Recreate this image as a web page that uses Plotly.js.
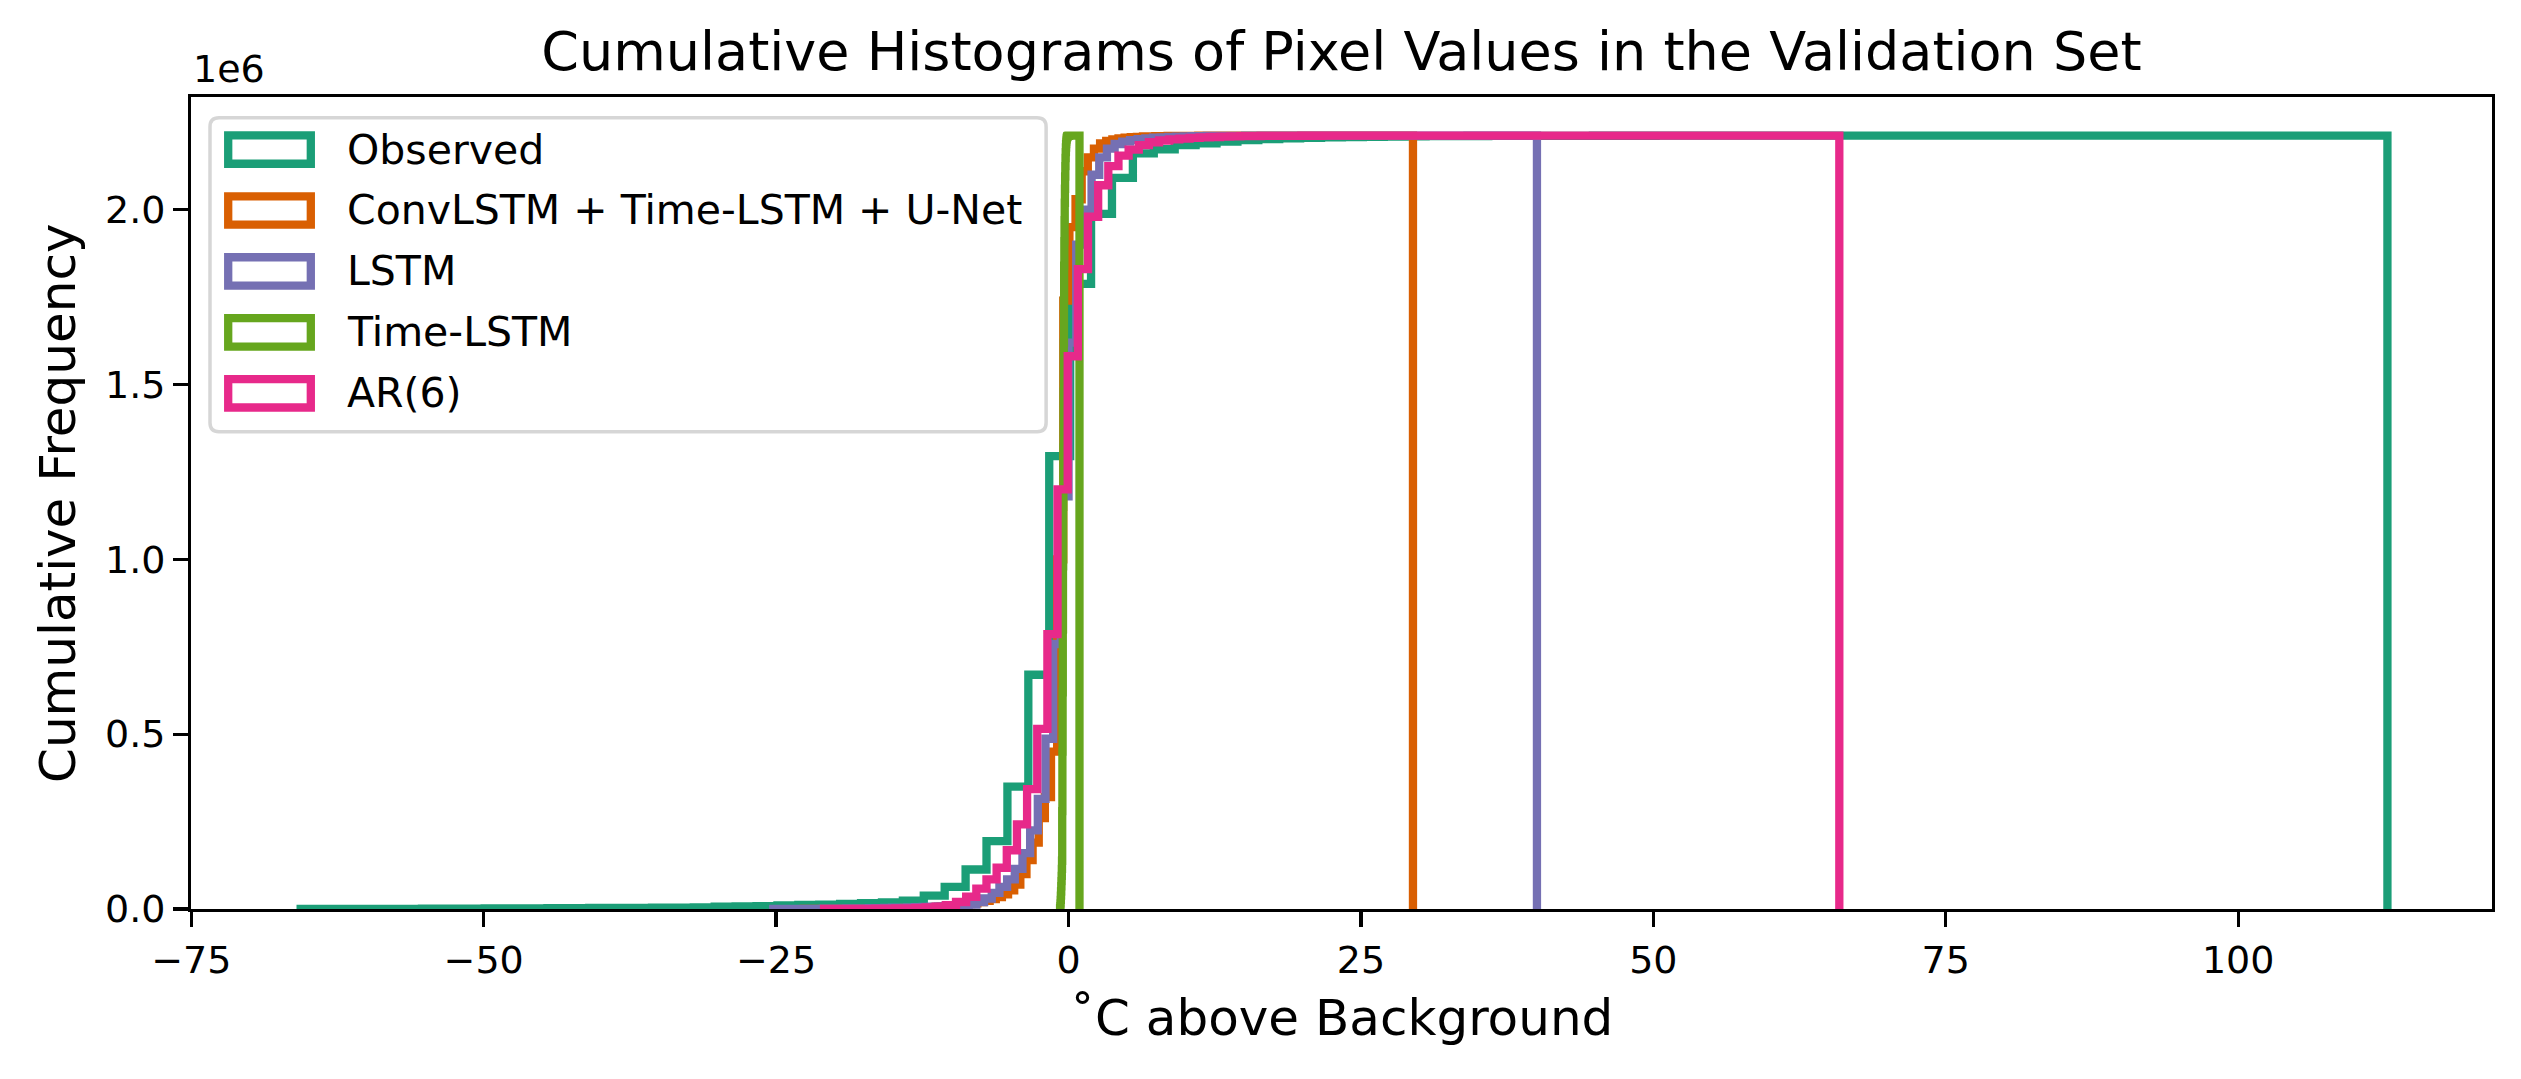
<!DOCTYPE html>
<html>
<head>
<meta charset="utf-8">
<script src="https://cdn.plot.ly/plotly-3.0.1.min.js"></script>
<style>
  html, body { margin: 0; padding: 0; background: #fff; }
  #chart { width: 2521px; height: 1079px; }
</style>
</head>
<body>
<div id="chart"></div>
<script>
// series labels and colours (Dark2)
const seriesNames = ['Observed', 'ConvLSTM + Time-LSTM + U-Net', 'LSTM', 'Time-LSTM', 'AR(6)'];
const seriesColors = ['#1b9e77', '#d95f02', '#7570b3', '#66a61e', '#e7298a'];

// value range of each histogram (100 equal bins each), in degC above background
const observedRange = [-66.0, 112.76];
const convRange = [-23.0, 29.45];
const lstmRange = [-25.6, 40.05];
const timeLstmRange = [-0.72, 0.94];
const arRange = [-20.9, 65.9];

// cumulative counts per bin, in millions of pixels
const observedCum = [
	0.00001, 0.0002, 0.0003, 0.0004, 0.0005, 0.0006, 0.0008, 0.0010, 0.0012, 0.0014,
	0.0016, 0.0019, 0.0022, 0.0025, 0.0028, 0.0031, 0.0034, 0.0038, 0.0042, 0.0046,
	0.0065, 0.0075, 0.0085, 0.0105, 0.0115, 0.0125, 0.0145, 0.0165, 0.0190, 0.0240,
	0.0385, 0.0630, 0.1130, 0.1940, 0.3500, 0.6700, 1.2950, 1.7880, 1.9880, 2.0910,
	2.1610, 2.1730, 2.1850, 2.1900, 2.1950, 2.1990, 2.2020, 2.2040, 2.2055, 2.2070,
	2.2080, 2.2088, 2.2094, 2.2099, 2.2103, 2.2106, 2.2109, 2.2111, 2.2113, 2.2114,
	2.2115, 2.2115, 2.2116, 2.2116, 2.2116, 2.2117, 2.2117, 2.2117, 2.2117, 2.2117,
	2.2118, 2.2118, 2.2118, 2.2118, 2.2118, 2.2118, 2.2118, 2.2118, 2.2118, 2.2118,
	2.2118, 2.2118, 2.2118, 2.2118, 2.2118, 2.2118, 2.2118, 2.2118, 2.2118, 2.2118,
	2.2118, 2.2118, 2.2118, 2.2118, 2.2118, 2.2118, 2.2118, 2.2118, 2.2118, 2.21184,
];
const convCum = [
	0.00001, 0.0001, 0.0001, 0.0002, 0.0002, 0.0003, 0.0004, 0.0005, 0.0006, 0.0007,
	0.0008, 0.0010, 0.0012, 0.0014, 0.0017, 0.0020, 0.0024, 0.0028, 0.0033, 0.0039,
	0.0046, 0.0054, 0.0063, 0.0073, 0.0085, 0.0100, 0.0118, 0.0140, 0.0165, 0.0195,
	0.0230, 0.0280, 0.0340, 0.0420, 0.0530, 0.0700, 0.1000, 0.1400, 0.1900, 0.2600,
	0.3200, 0.4500, 1.0000, 1.7400, 1.9500, 2.0300, 2.1100, 2.1500, 2.1750, 2.1900,
	2.1970, 2.2010, 2.2040, 2.2060, 2.2075, 2.2086, 2.2094, 2.2100, 2.2105, 2.2108,
	2.2110, 2.2112, 2.2113, 2.2114, 2.2115, 2.2116, 2.2116, 2.2117, 2.2117, 2.2117,
	2.2118, 2.2118, 2.2118, 2.2118, 2.2118, 2.2118, 2.2118, 2.2118, 2.2118, 2.2118,
	2.2118, 2.2118, 2.2118, 2.2118, 2.2118, 2.2118, 2.2118, 2.2118, 2.2118, 2.2118,
	2.2118, 2.2118, 2.2118, 2.2118, 2.2118, 2.2118, 2.2118, 2.2118, 2.2118, 2.21184,
];
const lstmCum = [
	0.00001, 0.0001, 0.0002, 0.0003, 0.0004, 0.0005, 0.0006, 0.0008, 0.0010, 0.0012,
	0.0014, 0.0017, 0.0020, 0.0023, 0.0027, 0.0031, 0.0036, 0.0041, 0.0047, 0.0053,
	0.0060, 0.0068, 0.0077, 0.0087, 0.0098, 0.0110, 0.0125, 0.0200, 0.0300, 0.0460,
	0.0630, 0.0850, 0.1150, 0.1600, 0.2250, 0.3150, 0.4870, 0.7580, 1.1800, 1.6200,
	1.9000, 2.0000, 2.1000, 2.1500, 2.1750, 2.1880, 2.1950, 2.1990, 2.2020, 2.2040,
	2.2060, 2.2072, 2.2082, 2.2090, 2.2097, 2.2102, 2.2106, 2.2109, 2.2111, 2.2113,
	2.2114, 2.2115, 2.2116, 2.2116, 2.2117, 2.2117, 2.2117, 2.2118, 2.2118, 2.2118,
	2.2118, 2.2118, 2.2118, 2.2118, 2.2118, 2.2118, 2.2118, 2.2118, 2.2118, 2.2118,
	2.2118, 2.2118, 2.2118, 2.2118, 2.2118, 2.2118, 2.2118, 2.2118, 2.2118, 2.2118,
	2.2118, 2.2118, 2.2118, 2.2118, 2.2118, 2.2118, 2.2118, 2.2118, 2.2118, 2.21184,
];
const timeLstmCum = [
	0.0020, 0.0080, 0.0160, 0.0260, 0.0380, 0.0500, 0.0650, 0.0800, 0.0950, 0.1150,
	0.1380, 0.2800, 0.4500, 0.6200, 0.8000, 0.9800, 1.1500, 1.3200, 1.4800, 1.6200,
	1.7400, 1.8400, 1.9100, 1.9700, 2.0200, 2.0600, 2.0950, 2.1250, 2.1480, 2.1650,
	2.1780, 2.1880, 2.1950, 2.2000, 2.2040, 2.2065, 2.2082, 2.2094, 2.2102, 2.2108,
	2.2111, 2.2113, 2.2114, 2.2115, 2.2116, 2.2116, 2.2117, 2.2117, 2.2117, 2.2118,
	2.2118, 2.2118, 2.2118, 2.2118, 2.2118, 2.2118, 2.2118, 2.2118, 2.2118, 2.2118,
	2.2118, 2.2118, 2.2118, 2.2118, 2.2118, 2.2118, 2.2118, 2.2118, 2.2118, 2.2118,
	2.2118, 2.2118, 2.2118, 2.2118, 2.2118, 2.2118, 2.2118, 2.2118, 2.2118, 2.2118,
	2.2118, 2.2118, 2.2118, 2.2118, 2.2118, 2.2118, 2.2118, 2.2118, 2.2118, 2.2118,
	2.2118, 2.2118, 2.2118, 2.2118, 2.2118, 2.2118, 2.2118, 2.2118, 2.2118, 2.21184,
];
const arCum = [
	0.0001, 0.0002, 0.0003, 0.00045, 0.0006, 0.0008, 0.0011, 0.0015, 0.0020, 0.0030,
	0.0045, 0.0070, 0.0110, 0.0200, 0.0350, 0.0580, 0.0850, 0.1180, 0.1680, 0.2420,
	0.3430, 0.5150, 0.7860, 1.2000, 1.5810, 1.8300, 1.9800, 2.0700, 2.1250, 2.1550,
	2.1720, 2.1850, 2.1930, 2.1980, 2.2010, 2.2035, 2.2055, 2.2070, 2.2080, 2.2090,
	2.2098, 2.2104, 2.2108, 2.2111, 2.2113, 2.2114, 2.2115, 2.2116, 2.2116, 2.2117,
	2.2117, 2.2117, 2.2117, 2.2118, 2.2118, 2.2118, 2.2118, 2.2118, 2.2118, 2.2118,
	2.2118, 2.2118, 2.2118, 2.2118, 2.2118, 2.2118, 2.2118, 2.2118, 2.2118, 2.2118,
	2.2118, 2.2118, 2.2118, 2.2118, 2.2118, 2.2118, 2.2118, 2.2118, 2.2118, 2.2118,
	2.2118, 2.2118, 2.2118, 2.2118, 2.2118, 2.2118, 2.2118, 2.2118, 2.2118, 2.2118,
	2.2118, 2.2118, 2.2118, 2.2118, 2.2118, 2.2118, 2.2118, 2.2118, 2.2118, 2.21184,
];

const xTicks = [-75, -50, -25, 0, 25, 50, 75, 100];
const yTicks = [0, 0.5, 1.0, 1.5, 2.0];

const ranges = [observedRange, convRange, lstmRange, timeLstmRange, arRange];
const cums = [observedCum, convCum, lstmCum, timeLstmCum, arCum];

const FONT = 'DejaVu Sans, Liberation Sans, sans-serif';
const LINE_W = 8.3;

// plot area in pixels (matplotlib axes box)
const W = 2521, H = 1079;
const plotLeft = 191, plotRight = 2491.7, plotTop = 96.7, plotBottom = 909.5;
const plotW = plotRight - plotLeft, plotH = plotBottom - plotTop;
const px2x = (px) => (px - plotLeft) / plotW;
const py2y = (py) => (plotBottom - py) / plotH;

// outline of a cumulative step histogram, like histtype='step'
function stepTrace(name, color, range, cum) {
	const binW = (range[1] - range[0]) / cum.length;
	const x = [range[0]];
	const y = [0];
	cum.forEach((c, i) => {
		x.push(range[0] + i * binW);
		y.push(c);
	});
	x.push(range[1]);
	y.push(0);
	return {
		type: 'scatter',
		mode: 'lines',
		name,
		x,
		y,
		line: { color, width: LINE_W, shape: 'hv' },
		showlegend: false,
		hoverinfo: 'skip',
	};
}

const data = seriesNames.map((name, i) => stepTrace(name, seriesColors[i], ranges[i], cums[i]));

// hand-built legend so the handles are outlined boxes as in matplotlib
function pathFromPx(points) {
	return points.map(([cmd, ...xy]) => {
		const parts = [];
		for (let k = 0; k < xy.length; k += 2) parts.push(`${px2x(xy[k])},${py2y(xy[k + 1])}`);
		return cmd + parts.join(' ');
	}).join(' ') + ' Z';
}

function roundedRect(x0, y0, x1, y1, r) {
	return pathFromPx([
		['M', x0 + r, y0],
		['L', x1 - r, y0],
		['Q', x1, y0, x1, y0 + r],
		['L', x1, y1 - r],
		['Q', x1, y1, x1 - r, y1],
		['L', x0 + r, y1],
		['Q', x0, y1, x0, y1 - r],
		['L', x0, y0 + r],
		['Q', x0, y0, x0 + r, y0],
	]);
}

const shapes = [
	{
		type: 'path',
		xref: 'paper',
		yref: 'paper',
		path: roundedRect(210, 117.5, 1046, 431.7, 9),
		fillcolor: 'rgba(255,255,255,0.8)',
		line: { color: 'rgba(204,204,204,0.8)', width: 3.5 },
		layer: 'above',
	},
];
const annotations = [];
const rowTop = 149.3, rowStep = 61;
seriesNames.forEach((name, i) => {
	const yc = rowTop + i * rowStep;
	shapes.push({
		type: 'rect',
		xref: 'paper',
		yref: 'paper',
		x0: px2x(228.2),
		x1: px2x(310.8),
		y0: py2y(yc - 14.2),
		y1: py2y(yc + 14.2),
		line: { color: seriesColors[i], width: LINE_W },
		fillcolor: 'rgba(0,0,0,0)',
		layer: 'above',
	});
	annotations.push({
		xref: 'paper',
		yref: 'paper',
		x: px2x(345),
		y: py2y(yc),
		xanchor: 'left',
		yanchor: 'middle',
		text: name,
		showarrow: false,
		font: { family: FONT, size: 41, color: '#000' },
	});
});

// axis titles and the offset label
annotations.push(
	{
		xref: 'paper', yref: 'paper', x: 0.5, y: 0, yshift: -(1018 - plotBottom),
		xanchor: 'center', yanchor: 'middle', showarrow: false,
		text: '˚C above Background',
		font: { family: FONT, size: 50, color: '#000' },
	},
	{
		xref: 'paper', yref: 'paper', x: 0, y: 0.5, xshift: -(plotLeft - 58),
		xanchor: 'center', yanchor: 'middle', showarrow: false, textangle: -90,
		text: 'Cumulative Frequency',
		font: { family: FONT, size: 50, color: '#000' },
	},
	{
		xref: 'paper', yref: 'paper', x: 0, y: 1, yshift: plotTop - 69,
		xanchor: 'left', yanchor: 'middle', showarrow: false,
		text: '1e6',
		font: { family: FONT, size: 38, color: '#000' },
	}
);

const axisCommon = {
	ticks: 'outside',
	ticklen: 14.6,
	tickwidth: 3.3,
	tickcolor: '#000',
	showline: true,
	linecolor: '#000',
	linewidth: 3.3,
	mirror: true,
	showgrid: false,
	zeroline: false,
	tickfont: { family: FONT, size: 38, color: '#000' },
	fixedrange: true,
};

const layout = {
	width: W,
	height: H,
	margin: { l: plotLeft, r: W - plotRight, t: plotTop, b: H - plotBottom, pad: 0 },
	paper_bgcolor: '#fff',
	plot_bgcolor: '#fff',
	showlegend: false,
	title: {
		text: 'Cumulative Histograms of Pixel Values in the Validation Set',
		font: { family: FONT, size: 54, color: '#000' },
		x: 0.5,
		xref: 'paper',
		y: 1 - 51 / H,
		yref: 'container',
		yanchor: 'middle',
	},
	xaxis: {
		...axisCommon,
		range: [-75.02, 121.7],
		tickmode: 'array',
		tickvals: xTicks,
	},
	yaxis: {
		...axisCommon,
		range: [0, 2.32243],
		tickmode: 'array',
		tickvals: yTicks,
		tickformat: '.1f',
	},
	shapes,
	annotations,
};

Plotly.newPlot('chart', data, layout, { displayModeBar: false, staticPlot: true });
</script>
</body>
</html>
